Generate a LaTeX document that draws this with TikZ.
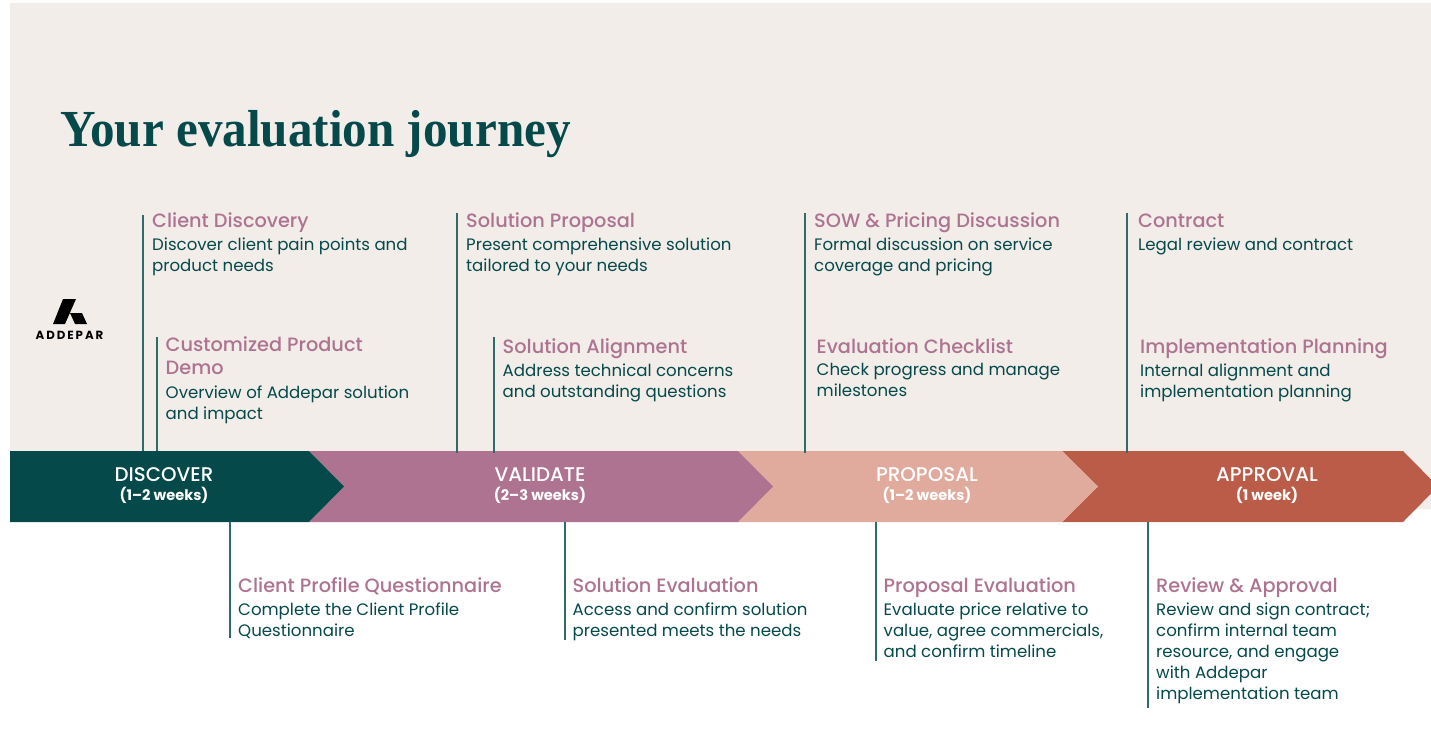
\documentclass[tikz,border=0pt]{standalone}
\usepackage{fontspec}
\setmainfont{Poppins}
\newfontfamily\titlefont[FakeStretch=0.945]{Liberation Serif}
\newfontfamily\mediumfont{Poppins Medium}
\usetikzlibrary{positioning}
\definecolor{creamBg}{HTML}{F2EDE9}
\definecolor{darkTeal}{HTML}{05494A}
\definecolor{mauveTone}{HTML}{AE7391}
\definecolor{peachTone}{HTML}{E0AA9C}
\definecolor{rustTone}{HTML}{BA5C47}
\definecolor{stemTone}{HTML}{2F6B6B}

\begin{document}
\begin{tikzpicture}[
        x=1pt, y=-1pt,
        heading/.style={inner sep=0pt, anchor=base west, font=\fontsize{19.3}{23}\mediumfont, text=mauveTone, align=left},
        detail/.style={inner sep=0pt, anchor=north west, font=\fontsize{16.6}{21}\selectfont, text=darkTeal, align=left},
        phase/.style={inner sep=0pt, text=white, font=\fontsize{19.8}{21}\mediumfont},
        weeks/.style={inner sep=0pt, text=white, font=\fontsize{14.6}{16}\selectfont\bfseries},
        stem/.style={stemTone, line width=1.5pt}
    ]
        \useasboundingbox (0,0) rectangle (1431,743);
        \fill[creamBg] (10,3) rectangle (1431,509);

        % Bands
        \begin{scope}
            \clip (0,0) rectangle (1431,743);
            \fill[rustTone] (1062,451) -- (1403,451) -- (1438,486.5) -- (1403,522) -- (1062,522) -- (1098,486.5) -- cycle;
            \fill[peachTone] (738,451) -- (1062,451) -- (1098,486.5) -- (1062,522) -- (738,522) -- (773,486.5) -- cycle;
            \fill[mauveTone] (309,451) -- (738,451) -- (773,486.5) -- (738,522) -- (309,522) -- (344,486.5) -- cycle;
            \fill[darkTeal] (10,451) -- (309,451) -- (344,486.5) -- (309,522) -- (10,522) -- cycle;
        \end{scope}

        \node [phase] (discover) at (164,475) {DISCOVER};
        \node [weeks] (discoverW) at (164,495) {(1--2 weeks)};
        \node [phase] (validate) at (540,475) {VALIDATE};
        \node [weeks] (validateW) at (540,495) {(2--3 weeks)};
        \node [phase] (proposal) at (927,475) {PROPOSAL};
        \node [weeks] (proposalW) at (927,495) {(1--2 weeks)};
        \node [phase] (approval) at (1267,475) {APPROVAL};
        \node [weeks] (approvalW) at (1267,495) {(1 week)};

        % Title and logo
        \node [inner sep=0pt, anchor=base west, text=darkTeal, font=\fontsize{52}{56}\titlefont\bfseries] (title) at (60,147) {Your evaluation journey};
        \fill[black] (63,299) -- (76,299) -- (65,324) -- (53,324) -- cycle;
        \fill[black] (70,313) -- (82,313) -- (87,324) -- (75,324) -- cycle;
        \node [inner sep=0pt, text=black, font=\fontsize{11.8}{13}\selectfont\bfseries] (logo) at (69.5,335) {A\,D\,D\,E\,P\,A\,R};

        % Upper row
        \node [heading] (clientH) at (152,228) {Client Discovery};
        \node [detail] (clientD) at (152,238) {Discover client pain points and\\product needs};
        \node [heading] (demoH) at (165.5,374.5) {Customized Product\\Demo};
        \node [detail] (demoD) at (165.5,385.5) {Overview of Addepar solution\\and impact};
        \node [heading] (solutionH) at (466,228) {Solution Proposal};
        \node [detail] (solutionD) at (466,238) {Present comprehensive solution\\tailored to your needs};
        \node [heading] (alignH) at (502.5,353) {Solution Alignment};
        \node [detail] (alignD) at (502.5,363.5) {Address technical concerns\\and outstanding questions};
        \node [heading] (sowH) at (814,228) {SOW \& Pricing Discussion};
        \node [detail] (sowD) at (814,238) {Formal discussion on service\\coverage and pricing};
        \node [heading] (checkH) at (816.5,353) {Evaluation Checklist};
        \node [detail] (checkD) at (816.5,363.5) {Check progress and manage\\milestones};
        \node [heading] (contractH) at (1138,228) {Contract};
        \node [detail] (contractD) at (1138,238) {Legal review and contract};
        \node [heading] (implH) at (1140,353) {Implementation Planning};
        \node [detail] (implD) at (1140,363.5) {Internal alignment and\\implementation planning};

        % Lower row
        \node [heading] (profileH) at (238,592) {Client Profile Questionnaire};
        \node [detail] (profileD) at (238,602.5) {Complete the Client Profile\\Questionnaire};
        \node [heading] (evalH) at (572.5,592) {Solution Evaluation};
        \node [detail] (evalD) at (572.5,602.5) {Access and confirm solution\\presented meets the needs};
        \node [heading] (priceH) at (883.5,592) {Proposal Evaluation};
        \node [detail] (priceD) at (883.5,602.5) {Evaluate price relative to\\value, agree commercials,\\and confirm timeline};
        \node [heading] (reviewH) at (1156,592) {Review \& Approval};
        \node [detail] (reviewD) at (1156,602.5) {Review and sign contract;\\confirm internal team\\resource, and engage\\with Addepar\\implementation team};

        % Stems
        \foreach \sx/\sa/\sb/\sname in {143/215/451/a, 157/337/451/b, 457/213/453/c, 494/337/453/d, 805/213/453/e, 1127/213/453/f, 230/522/638/g, 565/522/640/h, 876/522/661/i, 1148/522/708/j} {
            \coordinate (\sname1) at (\sx,\sa);
            \coordinate (\sname2) at (\sx,\sb);
            \draw[stem] (\sname1) -- (\sname2);
        }
    \end{tikzpicture}
\end{document}
